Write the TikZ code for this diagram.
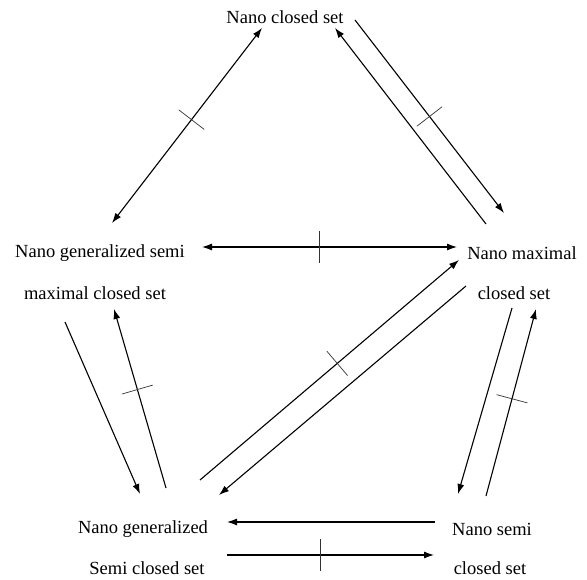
\documentclass[tikz,border=0pt]{standalone}
\usepackage{fontspec}
\setmainfont{Liberation Serif}
\usetikzlibrary{arrows.meta,decorations.markings}

\begin{document}
\begin{tikzpicture}[x=1pt, y=-1pt,
    lbl/.style = {inner sep=0pt, font=\fontsize{18.5}{22}\selectfont},
    arr/.style = {line width=1.1pt, -{Latex[length=10pt,width=7pt]}},
    both/.style = {line width=1.1pt, {Latex[length=10pt,width=7pt]}-{Latex[length=10pt,width=7pt]}},
    cut/.style = {postaction={decorate}, decoration={markings,
        mark=at position #1 with {\draw[-, line width=0.7pt, black!80] (0,-16pt) -- (0,16pt);}}},
    cut/.default = 0.5]
        \useasboundingbox (0,0) rectangle (587,580);
        \node[lbl] (ncs) at (285,17) {Nano closed set};
        \node[lbl] (ngsm1) at (100,253) {Nano generalized semi};
        \node[lbl] (ngsm2) at (95,293) {maximal closed set};
        \node[lbl] (nm1) at (522,253) {Nano maximal};
        \node[lbl] (nm2) at (514,293) {closed set};
        \node[lbl] (ngs1) at (143,529) {Nano generalized};
        \node[lbl] (ngs2) at (147,568) {Semi closed set};
        \node[lbl] (ns1) at (492,529) {Nano semi};
        \node[lbl] (ns2) at (490,568) {closed set};
        % arrow ends
        \coordinate (a1s) at (262,28);
        \coordinate (a1e) at (112,223);
        \coordinate (a2s) at (486,224);
        \coordinate (a2e) at (335,28);
        \coordinate (a3s) at (355,20);
        \coordinate (a3e) at (504,213);
        \coordinate (h1s) at (202,247);
        \coordinate (h1e) at (457,247);
        \coordinate (l1s) at (65,322);
        \coordinate (l1e) at (140,494);
        \coordinate (l2s) at (166,488);
        \coordinate (l2e) at (114,309);
        \coordinate (d1s) at (200,480);
        \coordinate (d1e) at (459,260);
        \coordinate (d2s) at (466,286);
        \coordinate (d2e) at (219,495);
        \coordinate (r1s) at (512,308);
        \coordinate (r1e) at (458,494);
        \coordinate (r2s) at (486,496);
        \coordinate (r2e) at (536,309);
        \coordinate (b1s) at (435,522);
        \coordinate (b1e) at (227,522);
        \coordinate (b2s) at (227,555);
        \coordinate (b2e) at (434,555);
        \draw[both, cut=0.47] (a1s) -- (a1e);
        \draw[arr] (a2s) -- (a2e);
        \draw[arr, cut] (a3s) -- (a3e);
        \draw[both, cut=0.46] (h1s) -- (h1e);
        \draw[arr] (l1s) -- (l1e);
        \draw[arr, cut=0.55] (l2s) -- (l2e);
        \draw[arr, cut=0.53] (d1s) -- (d1e);
        \draw[arr] (d2s) -- (d2e);
        \draw[arr] (r1s) -- (r1e);
        \draw[arr, cut=0.52] (r2s) -- (r2e);
        \draw[arr] (b1s) -- (b1e);
        \draw[arr, cut=0.45] (b2s) -- (b2e);
      \end{tikzpicture}
\end{document}
